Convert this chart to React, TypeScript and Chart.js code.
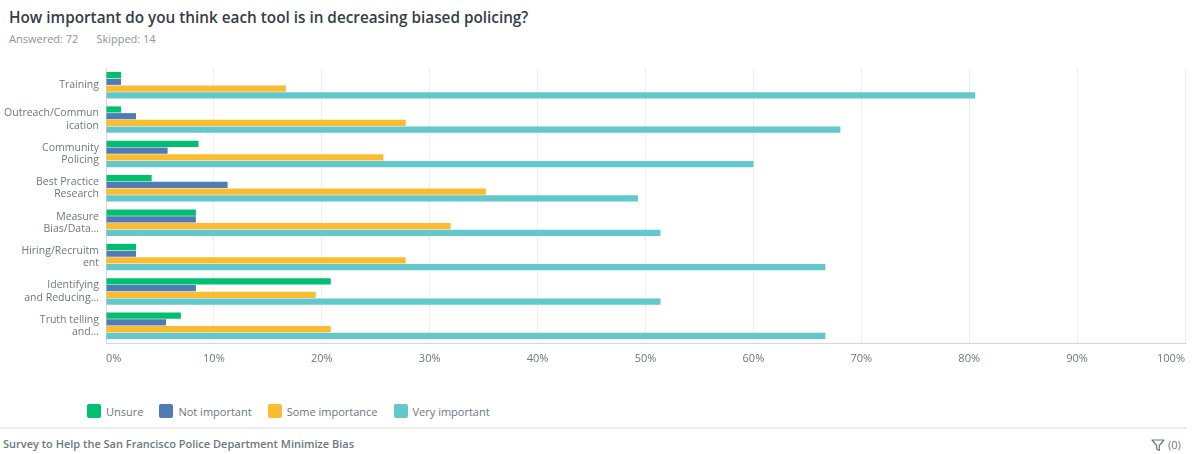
import React, { useEffect, useRef } from "react";
import { Chart, registerables } from "chart.js";

Chart.register(...registerables);

const title = "How important do you think each tool is in decreasing biased policing?";
const answeredText = "Answered: 72";
const skippedText = "Skipped: 14";
const footerText = "Survey to Help the San Francisco Police Department Minimize Bias";

const categories: string[][] = [
  ["Training"],
  ["Outreach/Commun", "ication"],
  ["Community", "Policing"],
  ["Best Practice", "Research"],
  ["Measure", "Bias/Data..."],
  ["Hiring/Recruitm", "ent"],
  ["Identifying", "and Reducing..."],
  ["Truth telling", "and..."],
];

const seriesNames = ["Unsure", "Not important", "Some importance", "Very important"];

const unsure = [1.39, 1.39, 8.57, 4.23, 8.33, 2.78, 20.83, 6.94];
const notImportant = [1.39, 2.78, 5.71, 11.27, 8.33, 2.78, 8.33, 5.56];
const someImportance = [16.67, 27.78, 25.71, 35.21, 31.94, 27.78, 19.44, 20.83];
const veryImportant = [80.56, 68.06, 60.0, 49.3, 51.39, 66.67, 51.39, 66.67];

const xTicks = [0, 10, 20, 30, 40, 50, 60, 70, 80, 90, 100];

const colors = ["#00BF6F", "#507CB6", "#FCBC32", "#62C8CC"];

const FONT = "'Open Sans', 'Noto Sans', sans-serif";
const GREY = "#6b787f";

export default function App() {
  const canvasRef = useRef<HTMLCanvasElement | null>(null);

  useEffect(() => {
    const canvas = canvasRef.current;
    if (!canvas) return;
    const seriesValues = [unsure, notImportant, someImportance, veryImportant];
    const chart = new Chart(canvas, {
      type: "bar",
      data: {
        labels: categories,
        datasets: seriesNames.map((name, i) => ({
          label: name,
          data: seriesValues[i],
          backgroundColor: colors[i],
          borderWidth: 0,
          categoryPercentage: 0.785,
          barPercentage: 0.91,
        })),
      },
      options: {
        indexAxis: "y",
        animation: false,
        responsive: false,
        maintainAspectRatio: false,
        layout: { padding: { top: 28, right: 7, left: 0, bottom: 0 } },
        plugins: {
          legend: { display: false },
          tooltip: { enabled: false },
          title: { display: false },
        },
        scales: {
          x: {
            min: 0,
            max: 100,
            afterBuildTicks: (scale: any) => {
              scale.ticks = xTicks.map((v) => ({ value: v }));
            },
            afterFit: (scale: any) => {
              scale.height = 31;
            },
            ticks: {
              align: "inner",
              padding: 0,
              color: GREY,
              font: { family: FONT, size: 11, lineHeight: "32px" },
              callback: (v: any) => v + "%",
            },
            grid: { color: "#efefef", lineWidth: 1, drawTicks: false },
            border: { color: "#d6d6d6", width: 1 },
          },
          y: {
            afterFit: (scale: any) => {
              scale.width = 106;
            },
            ticks: {
              padding: 7,
              color: GREY,
              font: { family: FONT, size: 10.5, lineHeight: 1.17 },
            },
            grid: { display: false, drawTicks: false },
            border: { color: "#d6d6d6", width: 1 },
          },
        },
      },
    });
    return () => chart.destroy();
  }, []);

  return (
    <div
      style={{
        position: "absolute",
        left: 0,
        top: 0,
        width: 1192,
        height: 454,
        overflow: "hidden",
        background: "#fff",
        fontFamily: FONT,
      }}
    >
      <div
        style={{
          position: "absolute",
          left: 9,
          top: 6,
          fontSize: 15.3,
          fontWeight: 600,
          color: "#333e48",
          whiteSpace: "nowrap",
          lineHeight: "22px",
        }}
      >
        {title}
      </div>
      <div
        style={{
          position: "absolute",
          left: 9,
          top: 31,
          fontSize: 11,
          color: "#8b969c",
          whiteSpace: "nowrap",
          lineHeight: "16px",
        }}
      >
        <span>{answeredText}</span>
        <span style={{ marginLeft: 18 }}>{skippedText}</span>
      </div>
      <canvas
        ref={canvasRef}
        width={1192}
        height={334}
        style={{ position: "absolute", left: 0, top: 40, width: 1192, height: 334 }}
      />
      <div
        style={{
          position: "absolute",
          left: 87,
          top: 404,
          display: "flex",
          alignItems: "center",
          height: 14,
          fontSize: 11,
          color: GREY,
          whiteSpace: "nowrap",
        }}
      >
        {seriesNames.map((name, i) => (
          <div key={name} style={{ display: "flex", alignItems: "center", marginRight: 16 }}>
            <span
              style={{
                display: "inline-block",
                width: 14,
                height: 14,
                borderRadius: 2,
                background: colors[i],
                marginRight: 5,
              }}
            />
            <span>{name}</span>
          </div>
        ))}
      </div>
      <div
        style={{
          position: "absolute",
          left: 0,
          top: 427,
          width: 1187,
          height: 2,
          background: "#ececec",
        }}
      />
      <div
        style={{
          position: "absolute",
          left: 3,
          top: 436,
          fontSize: 11,
          fontWeight: 600,
          color: GREY,
          whiteSpace: "nowrap",
          lineHeight: "16px",
        }}
      >
        {footerText}
      </div>
      <div
        style={{
          position: "absolute",
          left: 1151,
          top: 437,
          display: "flex",
          alignItems: "center",
          fontSize: 11,
          color: GREY,
          lineHeight: "16px",
        }}
      >
        <svg width="14" height="14" viewBox="0 0 14 14" style={{ marginRight: 3 }}>
          <path d="M1 2 H13 L8.3 7.5 V12.5 L5.7 11 V7.5 Z" fill="none" stroke="#6b787f" strokeWidth="1.2" strokeLinejoin="round" />
        </svg>
        <span>(0)</span>
      </div>
    </div>
  );
}
